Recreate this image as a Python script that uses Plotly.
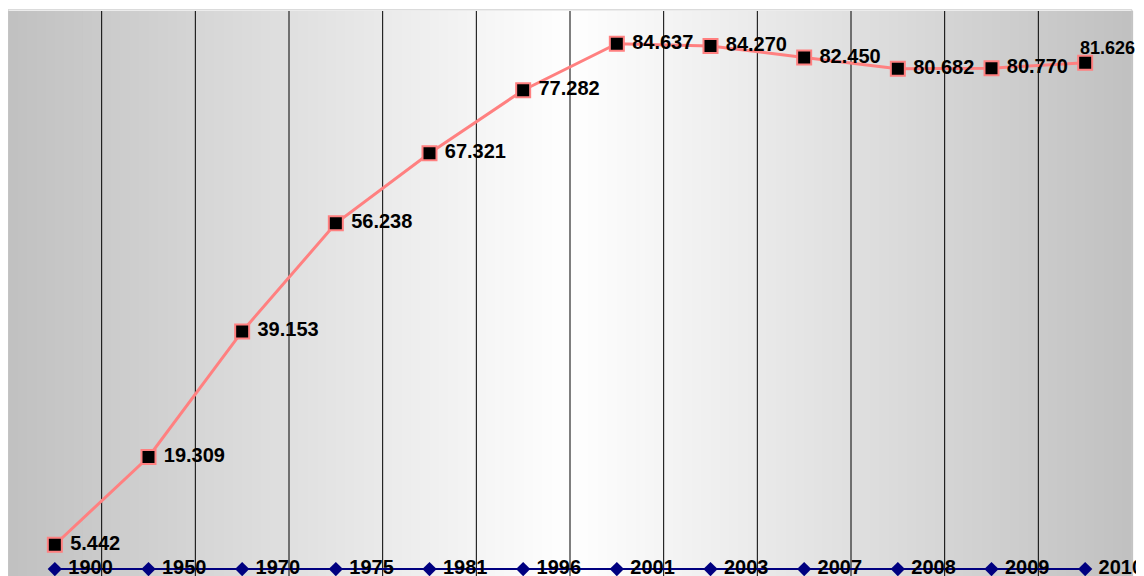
import plotly.graph_objects as go

years = ["1900", "1950", "1970", "1975", "1981", "1996", "2001", "2003", "2007", "2008", "2009", "2010"]
population = [5.442, 19.309, 39.153, 56.238, 67.321, 77.282, 84.637, 84.270, 82.450, 80.682, 80.770, 81.626]
baseline = [1.6] * len(years)

FONT = "Liberation Sans, Arial, sans-serif"

# horizontal gray -> white -> gray background
shapes = []
n_bands = 120
for i in range(n_bands):
    t = (i + 0.5) / n_bands
    c = int(round(192 + 63 * (1 - abs(t - 0.5) * 2)))
    shapes.append(dict(type="rect", xref="paper", yref="paper", x0=i / n_bands, x1=(i + 1) / n_bands + 0.001,
                       y0=0, y1=1, fillcolor=f"rgb({c},{c},{c})", line=dict(width=0), layer="below"))
# category separators
for i in range(len(years) - 1):
    shapes.append(dict(type="line", xref="x", yref="paper", x0=i + 0.5, x1=i + 0.5, y0=0, y1=1,
                       line=dict(color="#000000", width=1), layer="below"))
shapes.append(dict(type="rect", xref="paper", yref="paper", x0=0, x1=1, y0=0, y1=1.002,
                   line=dict(color="#c8c8c8", width=1), layer="below"))

# last label sits above its marker (edge of chart), the rest to the right
pop_text = ["&nbsp;" + f"{v:.3f}" for v in population[:-1]] + [""]

fig = go.Figure()
fig.add_trace(go.Scatter(
    x=years, y=baseline, mode="lines+markers+text",
    text=["&nbsp;" + y for y in years], textposition="middle right",
    textfont=dict(family=FONT, size=20, color="#000000", weight="bold"),
    line=dict(color="#000080", width=2),
    marker=dict(symbol="diamond", size=11, color="#000080"),
    cliponaxis=False, showlegend=False
))
fig.add_trace(go.Scatter(
    x=years, y=population, mode="lines+markers+text",
    text=pop_text, textposition="middle right",
    textfont=dict(family=FONT, size=20, color="#000000", weight="bold"),
    line=dict(color="#ff8080", width=3),
    marker=dict(symbol="square", size=14, color="#000000", line=dict(color="#ff8080", width=2)),
    cliponaxis=False, showlegend=False
))
fig.add_annotation(
    x=len(years) - 1, y=population[-1], text=f"<b>{population[-1]:.3f}</b>", showarrow=False,
    xanchor="left", yanchor="bottom", xshift=-6, yshift=4, borderpad=0,
    font=dict(family=FONT, size=18, color="#000000")
)

fig.update_layout(
    width=1144, height=576,
    margin=dict(l=0, r=20, t=3, b=0),
    paper_bgcolor="#ffffff", plot_bgcolor="#c0c0c0",
    shapes=shapes,
    font=dict(family=FONT)
)
fig.update_xaxes(type="category", range=[-0.5, len(years) - 0.5], showgrid=False, showticklabels=False,
                 zeroline=False, showline=False, fixedrange=True)
fig.update_yaxes(range=[-0.76, 89.8], showgrid=False, showticklabels=False, zeroline=False,
                 showline=False, fixedrange=True)

fig.write_html("out.html")
